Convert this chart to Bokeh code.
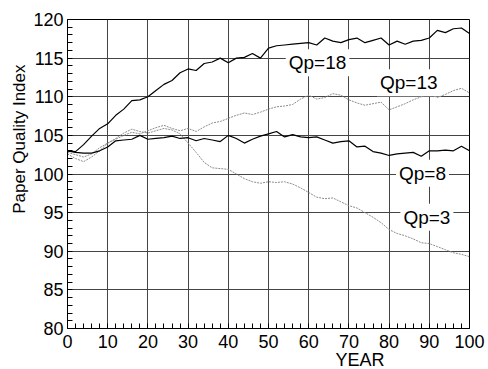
from bokeh.plotting import figure
from bokeh.models import Range1d, FixedTicker, Label, Title
from bokeh.embed import file_html
from bokeh.resources import INLINE

years = list(range(0, 101, 2))
qp18 = [103.0, 102.9, 103.8, 104.9, 105.9, 106.5, 107.6, 108.4, 109.5, 109.6, 110.0, 110.8, 111.6,
        112.1, 113.1, 113.6, 113.4, 114.3, 114.5, 115.0, 114.4, 115.0, 115.1, 115.6, 115.0, 116.3,
        116.6, 116.7, 116.8, 116.9, 117.0, 116.7, 117.6, 117.2, 117.0, 117.4, 117.6, 117.0, 117.3,
        117.6, 116.7, 117.2, 116.8, 117.2, 117.3, 117.6, 118.6, 118.3, 118.8, 118.9, 118.2]
qp13 = [102.8, 102.5, 102.2, 102.6, 103.4, 104.0, 104.5, 105.0, 105.4, 105.2, 105.6, 106.0, 106.3,
        105.9, 105.6, 105.9, 105.5, 106.1, 106.6, 106.8, 107.2, 107.6, 107.9, 107.7, 108.0, 108.4,
        108.7, 108.8, 109.0, 109.7, 110.2, 109.7, 109.9, 110.4, 110.2, 109.6, 109.2, 108.9, 109.1,
        109.3, 108.3, 108.7, 109.1, 109.6, 110.0, 110.4, 109.9, 110.3, 110.8, 111.1, 110.5]
qp8 = [103.0, 102.8, 102.7, 102.7, 103.0, 103.5, 104.3, 104.4, 104.5, 105.0, 104.5, 104.6, 104.7,
       104.9, 104.6, 104.7, 104.3, 104.6, 104.4, 104.2, 105.0, 104.6, 104.0, 104.5, 104.9, 105.2,
       105.5, 104.8, 105.1, 104.8, 104.7, 104.8, 104.4, 104.0, 104.2, 104.3, 103.5, 103.6, 102.9,
       102.7, 102.4, 102.6, 102.7, 102.8, 102.3, 103.0, 103.0, 103.1, 103.0, 103.6, 103.0]
qp3 = [102.6, 102.0, 101.6, 102.2, 103.0, 104.0, 104.6, 105.3, 105.8, 105.5, 105.3, 105.6, 105.9,
       105.7, 105.2, 104.0, 102.8, 101.5, 100.8, 100.7, 100.6, 100.0, 99.4, 99.0, 98.8, 99.0,
       98.9, 99.0, 98.7, 98.2, 97.6, 97.0, 96.8, 96.9, 96.4, 95.9, 95.6, 95.0, 94.4, 93.7,
       92.8, 92.3, 92.0, 91.6, 91.1, 91.0, 90.6, 90.2, 89.8, 89.6, 89.3]

x_ticks = [0, 10, 20, 30, 40, 50, 60, 70, 80, 90, 100]
x_minor = list(range(0, 101, 2))
y_ticks = [80, 85, 90, 95, 100, 105, 110, 115, 120]
y_minor = list(range(80, 121, 1))

series_labels = ["Qp=18", "Qp=13", "Qp=8", "Qp=3"]
label_x = [62.2, 84.9, 88.3, 89.4]
label_y = [114.4, 111.8, 100.1, 94.4]

FONT = "Liberation Sans"

p = figure(width=488, height=369, output_backend="svg", toolbar_location=None,
           x_range=Range1d(0, 100), y_range=Range1d(80, 120),
           min_border_left=67, min_border_right=19, min_border_top=19, min_border_bottom=41)
p.background_fill_color = "white"
p.border_fill_color = "white"
p.outline_line_color = "black"
p.outline_line_width = 1

for ax in (p.xaxis[0], p.yaxis[0]):
    ax.major_label_text_font = FONT
    ax.major_label_text_font_size = "18px"
    ax.major_label_text_color = "black"
    ax.axis_line_color = "black"
    ax.major_tick_in = 0
    ax.major_tick_out = 0
    ax.minor_tick_in = 5
    ax.minor_tick_out = 0
    ax.minor_tick_line_color = "black"
p.xaxis[0].major_label_standoff = 6
p.yaxis[0].major_label_standoff = 4

p.xaxis.ticker = FixedTicker(ticks=x_ticks, minor_ticks=x_minor)
p.yaxis.ticker = FixedTicker(ticks=y_ticks, minor_ticks=y_minor)

p.xgrid.ticker = FixedTicker(ticks=x_ticks)
p.ygrid.ticker = FixedTicker(ticks=y_ticks)
for g in (p.xgrid[0], p.ygrid[0]):
    g.grid_line_color = "#444444"
    g.grid_line_width = 1

p.line(years, qp3, line_color="#8c8c8c", line_width=1, line_dash="2 1")
p.line(years, qp13, line_color="#8c8c8c", line_width=1, line_dash="2 1")
p.line(years, qp8, line_color="black", line_width=1.2)
p.line(years, qp18, line_color="black", line_width=1.2)

for t, lx, ly in zip(series_labels, label_x, label_y):
    p.add_layout(Label(x=lx, y=ly, text=t, text_font=FONT, text_font_size="19px",
                       text_align="center", text_baseline="middle", text_color="black",
                       background_fill_color="white", padding=3))

ytitle = Title(text="Paper Quality Index", align="right", vertical_align="top", offset=45,
               standoff=0, text_font=FONT, text_font_size="17px", text_font_style="normal",
               text_color="black")
p.add_layout(ytitle, "left")

xtitle = Title(text="YEAR", align="left", vertical_align="bottom", offset=268,
               standoff=-5, text_font=FONT, text_font_size="18px", text_font_style="normal",
               text_color="black")
p.add_layout(xtitle, "below")

open("out.html", "w").write(file_html(p, INLINE))
